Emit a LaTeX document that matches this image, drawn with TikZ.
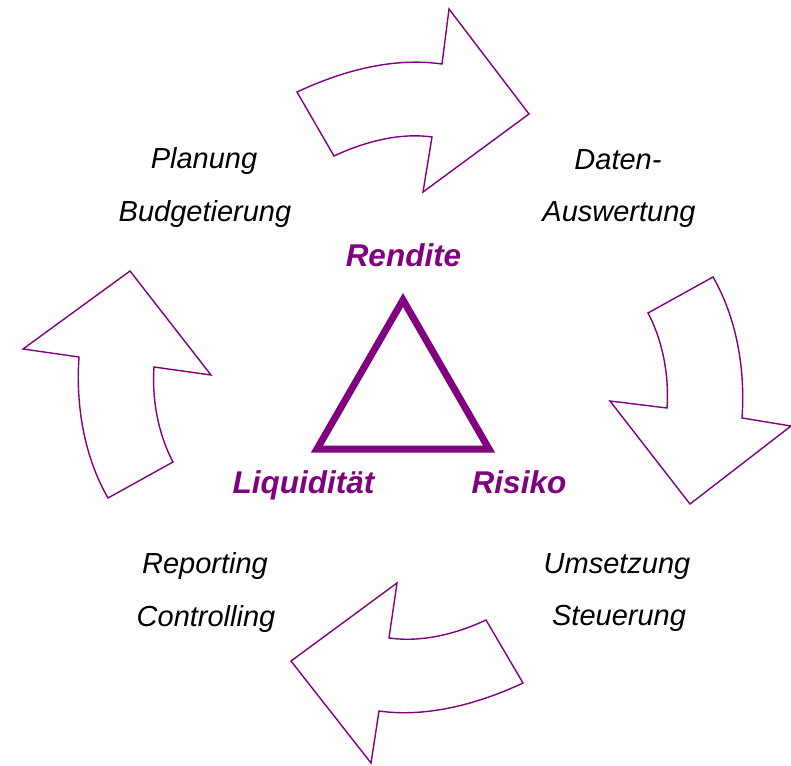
\documentclass[tikz,border=0pt]{standalone}
\usepackage{fontspec}
\setmainfont{Liberation Sans}
\definecolor{lila}{RGB}{128,0,128}
\tikzset{
  pfeil/.style={draw=lila, line width=1.4pt, line join=miter},
  schritt/.style={font=\fontsize{29}{35}\selectfont\itshape, anchor=base},
  ziel/.style={font=\fontsize{31.5}{38}\selectfont\bfseries\itshape, text=lila, anchor=base},
}

\begin{document}
\begin{tikzpicture}[x=1pt,y=-1pt]
		\useasboundingbox (0,0) rectangle (791,765);
		% vier Pfeile im Kreis
		\draw[pfeil] (297,92) .. controls (342.3,70.9) and (392.5,57) .. (442,64) -- (449,9) -- (529,114) -- (423,192) -- (432,137) .. controls (399.3,132.4) and (363.9,142) .. (334,156) -- cycle;
		\draw[pfeil] (713,277) .. controls (737,318.6) and (745.4,370.1) .. (742,418) -- (791,426) -- (690,504) -- (610,401) -- (667,408) .. controls (669.2,376.1) and (663,341.3) .. (648,313) -- cycle;
		\draw[pfeil] (523,683) .. controls (478.6,703.7) and (427.5,717.8) .. (379,711) -- (371,763) -- (291,661) -- (397,583) -- (389,638) .. controls (421.7,642.6) and (456.1,634) .. (486,620) -- cycle;
		\draw[pfeil] (108,498) .. controls (84,456.4) and (75.6,404.9) .. (79,357) -- (23,349) -- (130,271) -- (211,375) -- (154,367) .. controls (151.8,398.9) and (158,433.7) .. (173,462) -- cycle;
		% Dreieck
		\coordinate (R) at (403,300);
		\coordinate (S) at (489,449);
		\coordinate (L) at (317,449);
		\draw[lila, line width=7pt, line join=miter] (R) -- (S) -- (L) -- cycle;
		\node[ziel] (rendite) at (403.5,266) {Rendite};
		\node[ziel] (liquiditaet) at (303.5,493) {Liquidität};
		\node[ziel] (risiko) at (519,493) {Risiko};
		% Schritte
		\node[schritt] (planung) at (204,168) {Planung};
		\node[schritt] (budget) at (205,221) {Budgetierung};
		\node[schritt] (daten) at (618,169) {Daten-};
		\node[schritt] (auswertung) at (619,221) {Auswertung};
		\node[schritt] (umsetzung) at (617,573) {Umsetzung};
		\node[schritt] (steuerung) at (619,625) {Steuerung};
		\node[schritt] (reporting) at (205,573) {Reporting};
		\node[schritt] (controlling) at (206,626) {Controlling};
	\end{tikzpicture}
\end{document}
